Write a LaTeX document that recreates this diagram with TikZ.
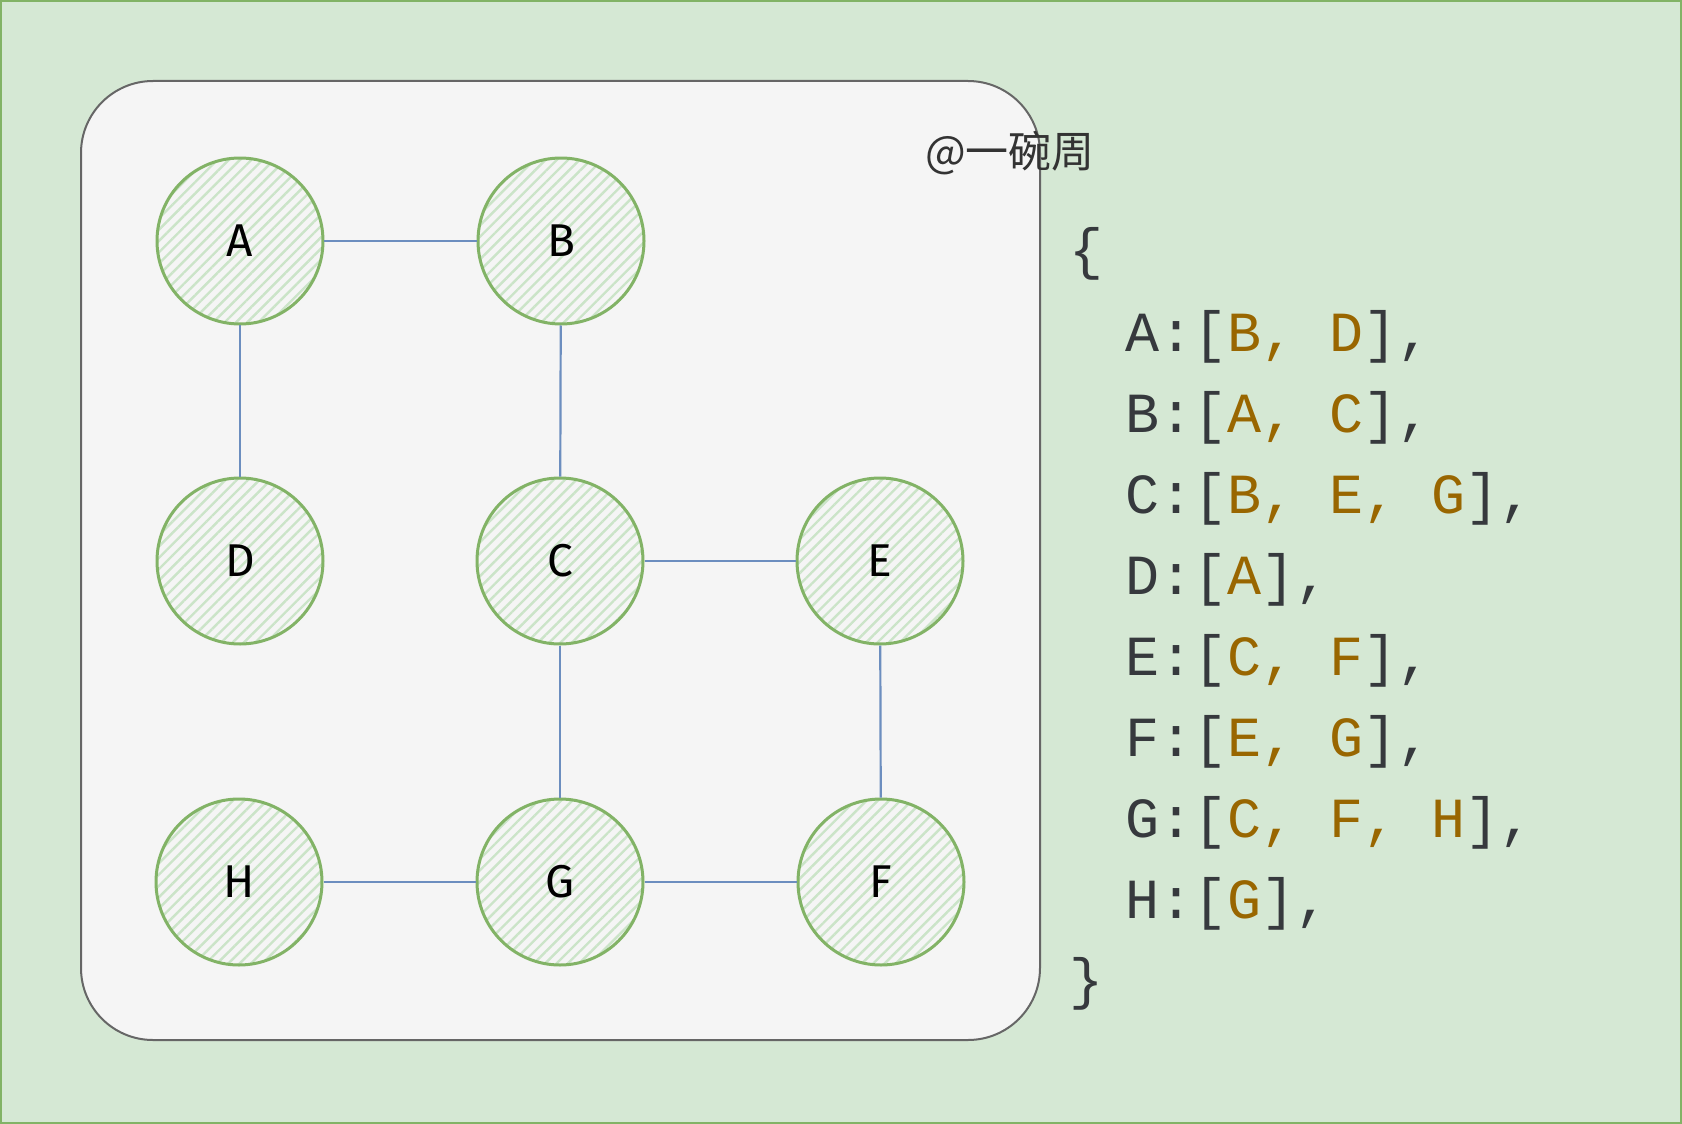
\documentclass[tikz,border=0pt]{standalone}
\usepackage{fontspec}
\usetikzlibrary{patterns.meta}
\newfontfamily\codefont{Liberation Mono}
\newfontfamily\cjkfont{Noto Sans CJK SC}
\newfontfamily\labfont{Fira Sans}
\definecolor{bggreen}{HTML}{D5E8D4}
\definecolor{bgstroke}{HTML}{82B366}
\definecolor{boxfill}{HTML}{F5F5F5}
\definecolor{boxstroke}{HTML}{666666}
\definecolor{edgeblue}{HTML}{6C8EBF}
\definecolor{hatch}{HTML}{CBE4C8}
\definecolor{codedark}{HTML}{36393D}
\definecolor{valc}{HTML}{996600}
\definecolor{wmark}{HTML}{333333}
\newcommand\vv[1]{\textcolor{valc}{#1}}
\tikzset{
  vert/.style={circle, draw=bgstroke, line width=3pt, minimum size=166pt, inner sep=0pt,
    pattern={Lines[angle=45,distance=8pt,line width=2.4pt]}, pattern color=hatch,
    font=\labfont\fontsize{46}{50}\selectfont, text=black},
  edge/.style={draw=edgeblue, line width=2.2pt},
  codeline/.style={anchor=base west, inner sep=0pt, text=codedark, font=\codefont\fontsize{56.7}{60}\selectfont}
}
\begin{document}
\begin{tikzpicture}[x=1pt,y=-1pt]
\useasboundingbox (0,0) rectangle (1682,1124);
\fill[bggreen, draw=bgstroke, line width=2pt] (1,1) rectangle (1681,1123);
\draw[fill=boxfill, draw=boxstroke, line width=2pt, rounded corners=72pt] (81,81) rectangle (1040,1040);

\node[vert] (A) at (240,241) {A};
\node[vert] (B) at (561,241) {B};
\node[vert] (D) at (240,561) {D};
\node[vert] (C) at (560,561) {C};
\node[vert] (E) at (880,561) {E};
\node[vert] (H) at (239,882) {H};
\node[vert] (G) at (560,882) {G};
\node[vert] (F) at (881,882) {F};

\draw[edge] (A) -- (B);
\draw[edge] (A) -- (D);
\draw[edge] (B) -- (C);
\draw[edge] (C) -- (E);
\draw[edge] (C) -- (G);
\draw[edge] (E) -- (F);
\draw[edge] (H) -- (G);
\draw[edge] (G) -- (F);

\node[text=wmark, font=\cjkfont\fontsize{43}{46}\selectfont, inner sep=0pt] (wm) at (1010,153) {@一碗周};

\node[codeline] (l0) at (1069,268) {\{};
\node[codeline] (l1) at (1125,351) {A:[\vv{B, D}],};
\node[codeline] (l2) at (1125,432) {B:[\vv{A, C}],};
\node[codeline] (l3) at (1125,513) {C:[\vv{B, E, G}],};
\node[codeline] (l4) at (1125,594) {D:[\vv{A}],};
\node[codeline] (l5) at (1125,675) {E:[\vv{C, F}],};
\node[codeline] (l6) at (1125,756) {F:[\vv{E, G}],};
\node[codeline] (l7) at (1125,837) {G:[\vv{C, F, H}],};
\node[codeline] (l8) at (1125,918) {H:[\vv{G}],};
\node[codeline] (l9) at (1069,998) {\}};
\end{tikzpicture}
\end{document}
